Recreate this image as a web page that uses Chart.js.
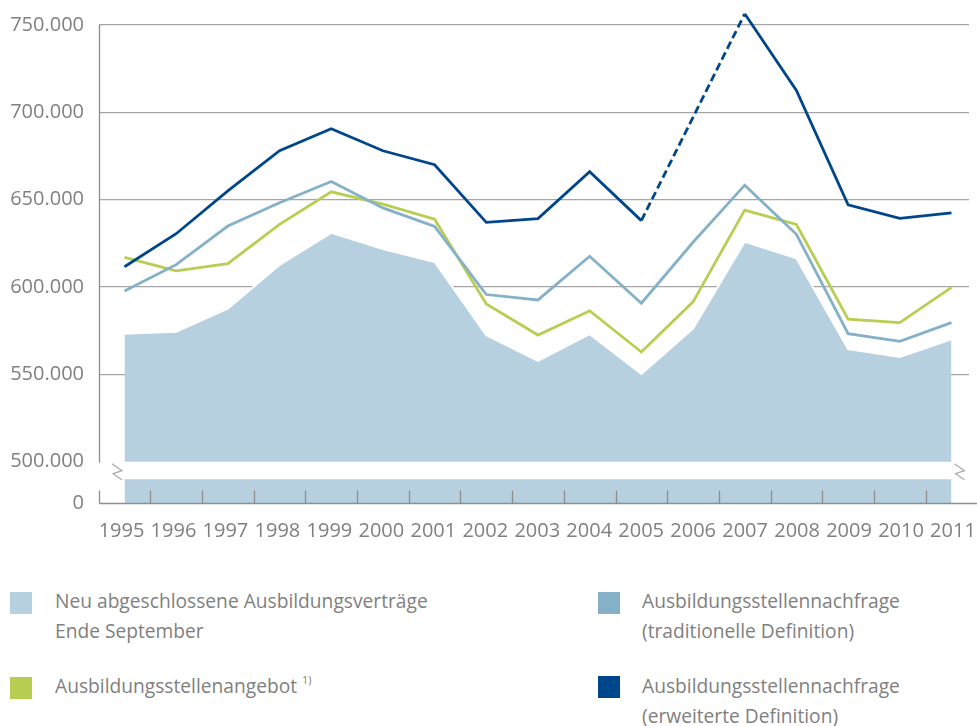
<!DOCTYPE html>
<html>
<head>
<meta charset="utf-8">
<script src="https://cdn.jsdelivr.net/npm/chart.js@4"></script>
<style>
  html, body { margin:0; padding:0; background:#fff; }
  body { width:977px; height:726px; position:relative; overflow:hidden; font-family:"Open Sans", sans-serif; color:#808080; }
  #wrap { position:absolute; left:0; top:0; width:977px; height:560px; }
  .sw { position:absolute; width:22px; height:22px; }
  .lt { position:absolute; font-size:19.2px; line-height:30px; white-space:nowrap; color:#808080; }
  .lt sup { font-size:11px; line-height:0; position:relative; top:-2px; }
</style>
</head>
<body>
<div id="wrap"><canvas id="c" width="977" height="560"></canvas></div>

<div class="sw" style="left:10px;top:592px;background:#b6d0df"></div>
<div class="lt" style="left:55px;top:586px">Neu abgeschlossene Ausbildungsverträge<br>Ende September</div>

<div class="sw" style="left:598px;top:592px;background:#84b1c8"></div>
<div class="lt" style="left:642px;top:586px">Ausbildungsstellennachfrage<br>(traditionelle Definition)</div>

<div class="sw" style="left:10px;top:677px;background:#b8ce52"></div>
<div class="lt" style="left:55px;top:671px">Ausbildungsstellenangebot <sup>1)</sup></div>

<div class="sw" style="left:598px;top:676px;background:#00468a"></div>
<div class="lt" style="left:642px;top:671px">Ausbildungsstellennachfrage<br>(erweiterte Definition)</div>

<script>
// ---- data ----
const years = [1995,1996,1997,1998,1999,2000,2001,2002,2003,2004,2005,2006,2007,2008,2009,2010,2011];
const vertraege = [573300,574400,587600,612600,631000,621700,614300,572400,557700,573000,550200,576200,625900,616400,564400,560000,570100];
const angebot = [617000,609300,613400,635900,654500,647400,638800,590300,572500,586400,562800,591500,644000,635800,581600,579600,599800];
const nachfrageTrad = [597700,612800,634900,648200,660400,645300,634700,595700,592600,617600,590700,625600,658300,630200,573300,568900,579600];
const nachfrageErw = [611600,630500,655000,678000,690600,678000,670000,637000,639200,666000,638000,null,756400,712500,647000,639300,642500];
const yTicks = [500000,550000,600000,650000,700000,750000];
const breakValue = 500000;   // upper segment starts here
const breakLow = 490000;     // lower (compressed) segment top
const yMin = 476350;          // represents 0

const cArea = '#b6d0df', cTrad = '#84b1c8', cAng = '#b8ce52', cErw = '#00468a';
const grey = '#808080', gridC = '#a6a6a6', axisC = '#8e8e8e';

const pts = arr => years.map((yr,i)=>({x:yr, y:arr[i]}));
const fmt = v => String(Math.round(v)).replace(/\B(?=(\d{3})+(?!\d))/g,'.');

const decor = {
  id:'decor',
  afterDatasetsDraw(chart){
    const {ctx, chartArea:a, scales:{x,y}} = chart;
    ctx.save();
    ctx.strokeStyle = axisC; ctx.lineWidth = 1.3;
    const L = Math.round(a.left)+0.5, B = Math.round(a.bottom)+0.5;
    const ln = (x1,y1,x2,y2)=>{ctx.beginPath();ctx.moveTo(x1,y1);ctx.lineTo(x2,y2);ctx.stroke();};
    ln(L, a.top, L, y.getPixelForValue(breakValue)+1);
    ln(L, B-13, L, B);
    ln(L, B, chart.width, B);
    for (let i=0;i<years.length-1;i++){
      const px = Math.round(x.getPixelForValue(years[i]+0.5))+0.5;
      ln(px, B-13, px, B);
    }
    // break marks
    const yb = y.getPixelForValue(breakValue)+2;
    const mark = x0 => {
      ctx.beginPath();
      ctx.moveTo(x0, yb); ctx.lineTo(x0+10, yb+7); ctx.lineTo(x0+1, yb+10); ctx.lineTo(x0+10, yb+16);
      ctx.stroke();
    };
    ctx.strokeStyle = '#a8a8a8'; ctx.lineWidth = 1.2;
    mark(x.getPixelForValue(years[0]) - 12.5);
    mark(x.getPixelForValue(years[years.length-1]) + 3);
    ctx.restore();
  }
};

new Chart(document.getElementById('c'), {
  type:'line',
  data:{
    datasets:[
      { label:'Ausbildungsstellennachfrage (erweiterte Definition)', data:pts(nachfrageErw), borderColor:cErw, borderWidth:2.8,
        pointRadius:0, tension:0, spanGaps:true, clip:false, fill:false,
        segment:{ borderDash: c => (nachfrageErw[c.p0DataIndex] == null || nachfrageErw[c.p1DataIndex] == null) ? [8,4] : undefined } },
      { label:'Ausbildungsstellennachfrage (traditionelle Definition)', data:pts(nachfrageTrad), borderColor:cTrad, borderWidth:2.8,
        pointRadius:0, tension:0, clip:false, fill:false },
      { label:'Ausbildungsstellenangebot', data:pts(angebot), borderColor:cAng, borderWidth:2.8,
        pointRadius:0, tension:0, clip:false, fill:false },
      { label:'Neu abgeschlossene Ausbildungsverträge Ende September', data:pts(vertraege), borderColor:'#ffffff', borderWidth:2,
        backgroundColor:cArea, pointRadius:0, tension:0, fill:{value:breakValue}, clip:false },
      { label:'break', data:[{x:years[0],y:breakLow},{x:years[years.length-1],y:breakLow}], borderWidth:0, borderColor:'rgba(0,0,0,0)',
        backgroundColor:cArea, pointRadius:0, fill:'start' }
    ]
  },
  options:{
    responsive:false, animation:false, events:[],
    layout:{ padding:{ top:25, right:8, left:0, bottom:0 } },
    plugins:{ legend:{display:false}, tooltip:{enabled:false} },
    scales:{
      x:{ type:'linear', display:false, min:1994.507, max:2011.339 },
      xl:{ type:'linear', position:'bottom', min:1994.567, max:2011.308,
        afterBuildTicks: s => { s.ticks = years.map(v=>({value:v})); },
        afterFit: s => { s.height = 57; s.paddingLeft = 0; s.paddingRight = 0; },
        grid:{ display:false, drawTicks:false }, border:{ display:false },
        ticks:{ autoSkip:false, maxRotation:0, padding:16, color:grey, font:{ family:'Open Sans', size:20 }, callback: v => String(v) } },
      y:{ type:'linear', min:yMin, max:750000,
        afterBuildTicks: s => { s.ticks = [yMin, ...yTicks].map(v=>({value:v})); },
        afterFit: s => { s.width = 99; s.paddingTop = 0; s.paddingBottom = 0; },
        border:{ display:false },
        grid:{ drawTicks:false, lineWidth:1.2, color: c => (c.tick && c.tick.value >= 550000) ? gridC : 'rgba(0,0,0,0)' },
        ticks:{ padding:15, color:grey, font:{ family:'Open Sans', size:20 }, callback: v => v === yMin ? '0' : fmt(v) } }
    }
  },
  plugins:[decor]
});
</script>
</body>
</html>
